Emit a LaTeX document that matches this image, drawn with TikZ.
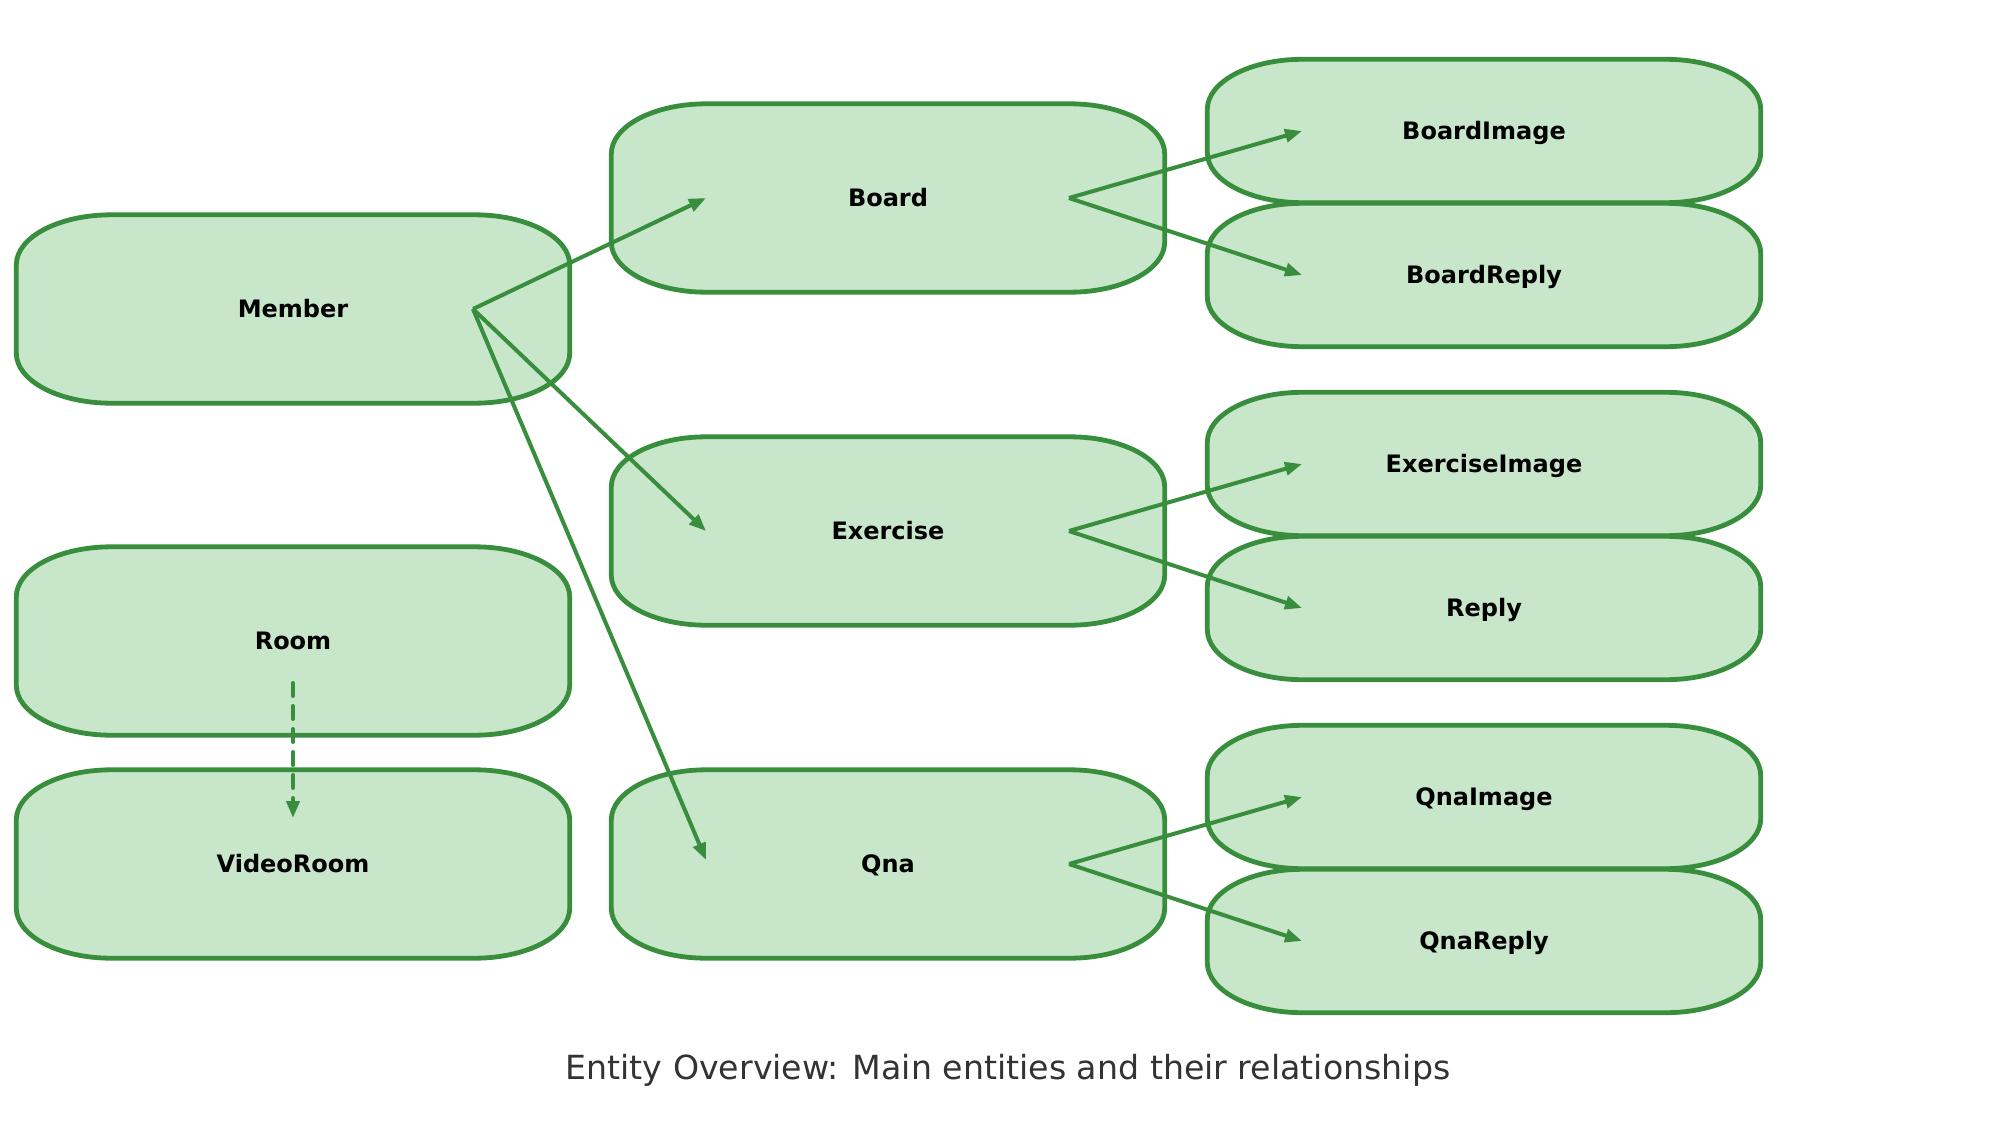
\documentclass[tikz,border=0pt]{standalone}
\usepackage{fontspec}
\setmainfont{DejaVu Sans}
\usetikzlibrary{calc,backgrounds,arrows.meta}
\definecolor{boxfill}{HTML}{C8E6C9}
\definecolor{boxline}{HTML}{388E3C}
\definecolor{captxt}{HTML}{333333}
\newcommand\entbox[1]{%
  \path[boxshape] ([xshift=95pt]#1.north west) -- ([xshift=-95pt]#1.north east)
    arc[start angle=90,end angle=0,x radius=95pt,y radius=50pt]
    -- ([yshift=50pt]#1.south east)
    arc[start angle=0,end angle=-90,x radius=95pt,y radius=50pt]
    -- ([xshift=95pt]#1.south west)
    arc[start angle=270,end angle=180,x radius=95pt,y radius=50pt]
    -- ([yshift=-50pt]#1.north west)
    arc[start angle=180,end angle=90,x radius=95pt,y radius=50pt]
    -- cycle;}
\tikzset{
  ent/.style={minimum width=553pt,minimum height=188pt,inner sep=0pt,
    text height=17.5pt,text depth=0pt,
    font=\fontsize{24}{28}\selectfont\bfseries,text=black},
  smallent/.style={ent,minimum height=143pt},
  boxshape/.style={fill=boxfill,draw=boxline,line width=4.8pt},
  edge/.style={draw=boxline,line width=4pt,-{Triangle[length=17pt,width=13pt]}},
  dashedge/.style={edge,dash pattern=on 13pt off 10pt,line cap=round}
}
\begin{document}
\begin{tikzpicture}[x=1pt,y=-1pt]
\useasboundingbox (0,0) rectangle (2016,1140);
\node[ent] (Member) at (293,309) {Member};
\node[ent] (Room) at (293,641) {Room};
\node[ent] (VideoRoom) at (293,864) {VideoRoom};
\node[ent] (Board) at (888,198) {Board};
\node[ent] (Exercise) at (888,531) {Exercise};
\node[ent] (Qna) at (888,864) {Qna};
\node[smallent] (BoardImage) at (1484,131) {BoardImage};
\node[smallent] (BoardReply) at (1484,275) {BoardReply};
\node[smallent] (ExerciseImage) at (1484,464) {ExerciseImage};
\node[smallent] (Reply) at (1484,608) {Reply};
\node[smallent] (QnaImage) at (1484,797) {QnaImage};
\node[smallent] (QnaReply) at (1484,941) {QnaReply};
\begin{scope}[on background layer]
\fill[white] (0,0) rectangle (2016,1140);
\foreach \n in {Member,Room,VideoRoom,Board,Exercise,Qna,BoardImage,BoardReply,ExerciseImage,Reply,QnaImage,QnaReply}{\entbox{\n}}
\end{scope}
\draw[edge] ($(Member)+(180,0)$) -- ($(Board)+(-182,0)$);
\draw[edge] ($(Member)+(180,0)$) -- ($(Exercise)+(-182,0)$);
\draw[edge] ($(Member)+(180,0)$) -- ($(Qna)+(-182,-4)$);
\draw[edge] ($(Board)+(181,0)$) -- ($(BoardImage)+(-182,0)$);
\draw[edge] ($(Board)+(181,0)$) -- ($(BoardReply)+(-182,0)$);
\draw[edge] ($(Exercise)+(181,0)$) -- ($(ExerciseImage)+(-182,0)$);
\draw[edge] ($(Exercise)+(181,0)$) -- ($(Reply)+(-182,0)$);
\draw[edge] ($(Qna)+(181,0)$) -- ($(QnaImage)+(-182,0)$);
\draw[edge] ($(Qna)+(181,0)$) -- ($(QnaReply)+(-182,0)$);
\draw[dashedge] ($(Room)+(0,42)$) -- ($(VideoRoom)+(0,-46)$);
\node[font=\fontsize{33.2}{40}\selectfont,text=captxt] (caption) at (1008,1070) {Entity Overview: Main entities and their relationships};
\end{tikzpicture}
\end{document}
